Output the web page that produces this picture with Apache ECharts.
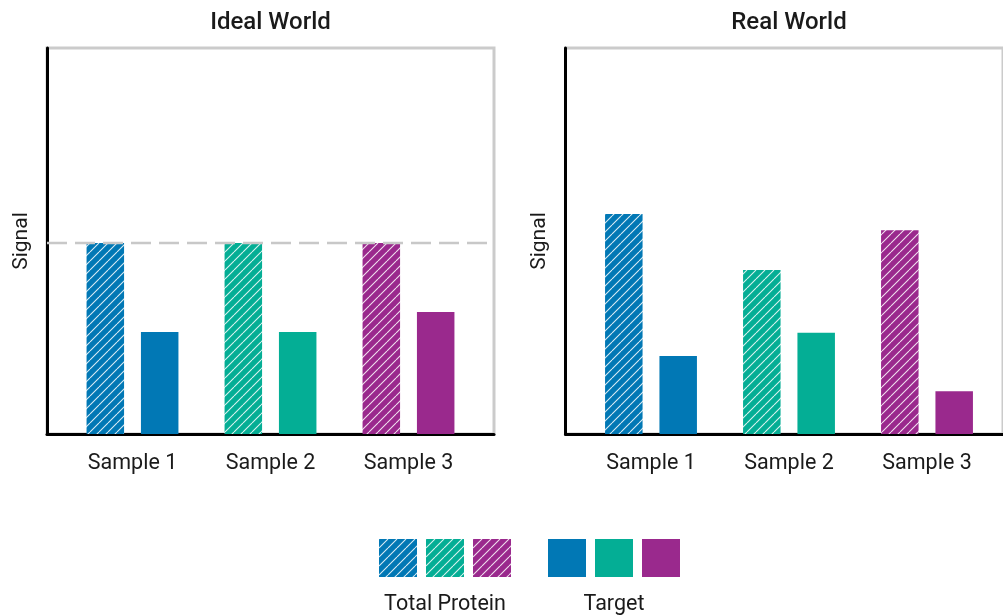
<!DOCTYPE html>
<html>
<head>
<meta charset="utf-8">
<script src="https://cdn.jsdelivr.net/npm/echarts@6/dist/echarts.min.js"></script>
<style>
html,body{margin:0;padding:0;background:#fff;}
#chart{width:1003px;height:616px;}
</style>
</head>
<body>
<div id="chart"></div>
<script>
const categories = ['Sample 1', 'Sample 2', 'Sample 3'];
const idealTotal = [49.5, 49.5, 49.5];
const idealTarget = [26.4, 26.4, 31.6];
const realTotal = [57.0, 42.5, 52.8];
const realTarget = [20.2, 26.2, 11.1];
const idealReference = 49.5;
const panelTitles = ['Ideal World', 'Real World'];
const legendLabels = ['Total Protein', 'Target'];
const sampleColors = ['#0178B5', '#04AE95', '#9A298D'];

const FONT = 'Roboto';
const TXT = '#1a1a1a';

function stripePattern(color) {
  const s = 9;
  const c = document.createElement('canvas');
  c.width = s; c.height = s;
  const g = c.getContext('2d');
  g.fillStyle = color; g.fillRect(0, 0, s, s);
  g.strokeStyle = 'rgba(255,255,255,0.85)';
  g.lineWidth = 1.1;
  g.beginPath();
  for (const k of [-s, 0, s]) { g.moveTo(k, s); g.lineTo(k + s, 0); }
  g.stroke();
  return { image: c, repeat: 'repeat' };
}
const patterns = sampleColors.map(stripePattern);

const TOP = 48, H = 386, W = 447;
const frameLefts = [47, 565.5];
const dataLefts = [63.5, 582];
const dataWidth = 414;

const grids = [], xAxes = [], yAxes = [], series = [];
[0, 1].forEach(p => {
  grids.push({ left: frameLefts[p], top: TOP, width: W, height: H, show: true,
    borderColor: '#cbcbcb', borderWidth: 3, backgroundColor: 'transparent' });
  grids.push({ left: dataLefts[p], top: TOP, width: dataWidth, height: H });
});
[0, 1].forEach(p => {
  const fg = p * 2, dg = p * 2 + 1;
  xAxes.push({ gridIndex: fg, type: 'category', data: ['', ''], boundaryGap: false,
    axisLine: { show: true, onZero: false, lineStyle: { color: '#000', width: 3 } },
    axisTick: { show: false }, axisLabel: { show: false }, splitLine: { show: false } });
  xAxes.push({ gridIndex: dg, type: 'category', data: categories,
    axisLine: { show: false }, axisTick: { show: false },
    axisLabel: { margin: 19, fontFamily: FONT, fontSize: 21.5, color: TXT } });
  yAxes.push({ gridIndex: fg, type: 'value', min: 0, max: 100,
    name: 'Signal', nameLocation: 'middle', nameGap: 15,
    nameTextStyle: { fontFamily: FONT, fontSize: 21, color: TXT },
    axisLine: { show: true, lineStyle: { color: '#000', width: 3 } },
    axisTick: { show: false }, axisLabel: { show: false }, splitLine: { show: false } });
  yAxes.push({ gridIndex: dg, type: 'value', min: 0, max: 100, show: false,
    splitLine: { show: false } });
});

const totals = [idealTotal, realTotal];
const targets = [idealTarget, realTarget];
[0, 1].forEach(p => {
  const di = p * 2 + 1;
  series.push({ type: 'bar', xAxisIndex: di, yAxisIndex: di, barWidth: 37.5, barGap: '45%',
    data: totals[p].map((v, i) => ({ value: v, itemStyle: { color: patterns[i] } })) });
  series.push({ type: 'bar', xAxisIndex: di, yAxisIndex: di, barWidth: 37.5, barGap: '45%',
    data: targets[p].map((v, i) => ({ value: v, itemStyle: { color: sampleColors[i] } })) });
});
series.push({ type: 'line', xAxisIndex: 0, yAxisIndex: 0, symbol: 'none', z: 5, silent: true,
  data: [idealReference, idealReference],
  lineStyle: { color: '#c8c8c8', width: 2.5, type: [20, 8] } });

const graphic = [];
const sq = 38, ly = 539;
const hatchX = [379, 426, 473], solidX = [548, 595, 642];
hatchX.forEach((x, i) => graphic.push({ type: 'rect', left: x, top: ly,
  shape: { width: sq, height: sq }, style: { fill: patterns[i] } }));
solidX.forEach((x, i) => graphic.push({ type: 'rect', left: x, top: ly,
  shape: { width: sq, height: sq }, style: { fill: sampleColors[i] } }));
[[445, legendLabels[0]], [614, legendLabels[1]]].forEach(([x, t]) => graphic.push({
  type: 'text', x: x, y: 605, style: { text: t, fontFamily: FONT, fontSize: 21.5, fill: TXT,
    textAlign: 'center', textVerticalAlign: 'middle' } }));
panelTitles.forEach((t, p) => graphic.push({
  type: 'text', x: frameLefts[p] + W / 2, y: 23, style: { text: t, fontFamily: FONT,
    fontSize: 24, fontWeight: 500, fill: TXT, textAlign: 'center', textVerticalAlign: 'middle' } }));

const chart = echarts.init(document.getElementById('chart'), null, { renderer: 'canvas' });
chart.setOption({
  animation: false,
  backgroundColor: '#fff',
  grid: grids, xAxis: xAxes, yAxis: yAxes, series: series, graphic: graphic
});
</script>
</body>
</html>
